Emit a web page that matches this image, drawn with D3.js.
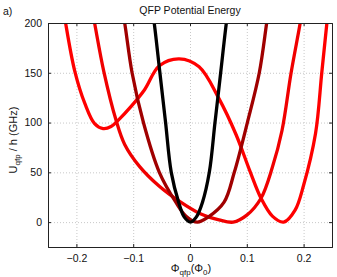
<!DOCTYPE html>
<html>
<head>
<meta charset="utf-8">
<script src="https://cdn.jsdelivr.net/npm/d3@7"></script>
<style>
  body { margin: 0; background: #fff; }
  text { font-family: "Liberation Sans", Arial, sans-serif; fill: #111; }
  .grid line { stroke: #c8c8c8; stroke-dasharray: 1,2; }
</style>
</head>
<body>
<div id="chart"></div>
<script>

// curves: [phi, U]
var curveBlack = [[-0.067,215],[-0.063,200],[-0.053,150],[-0.043,100],[-0.033,50],[-0.02,20],[-0.01,5],[0.001,0],[0.011,5],[0.022,20],[0.034,50],[0.044,100],[0.054,150],[0.064,200],[0.068,215]]
var curveDark = [[-0.12,215],[-0.115,200],[-0.102,150],[-0.082,100],[-0.054,50],[-0.025,20],[-0.007,6],[0.013,0],[0.032,5],[0.06,20],[0.078,50],[0.101,100],[0.122,150],[0.135,200],[0.139,215]]
var curveRedB = [[-0.173,215],[-0.168,200],[-0.152,152],[-0.130,102],[-0.115,78],[-0.089,56],[-0.054,36],[-0.019,21],[0.016,9],[0.051,2.3],[0.076,0],[0.10,7],[0.125,24],[0.145,55],[0.162,92],[0.178,150],[0.194,200],[0.198,215]]
var curveRedC = [[-0.223,215],[-0.219,200],[-0.203,152],[-0.185,119],[-0.168,99],[-0.153,94],[-0.139,96],[-0.127,102],[-0.104,116],[-0.080,133],[-0.054,157],[-0.019,164],[0.016,156],[0.051,124],[0.081,88],[0.105,52],[0.125,24],[0.145,6],[0.165,0],[0.185,12],[0.2,37],[0.221,89],[0.232,150],[0.241,200],[0.244,215]]

var curves = [curveRedC, curveRedB, curveDark, curveBlack]
var curveColors = ["#ff0000", "#f00000", "#a00000", "#000000"]

var xTicks = [-0.2, -0.1, 0, 0.1, 0.2]
var yTicks = [0, 50, 100, 150, 200]

var W = 337, H = 277
var margin = { top: 23, right: 5, bottom: 30, left: 48 },
    width = W - margin.left - margin.right,
    height = H - margin.top - margin.bottom

var svg = d3.select("#chart").append("svg")
    .attr("width", W)
    .attr("height", H)

var g = svg.append("g")
    .attr("transform", "translate(" + margin.left + "," + margin.top + ")")

var x = d3.scaleLinear().domain([-0.25, 0.25]).range([0, width])
var y = d3.scaleLinear().domain([-25, 200]).range([height, 0])

// grid
g.append("g").attr("class", "grid")
  .selectAll("line").data(xTicks).enter().append("line")
    .attr("x1", function(d) { return x(d) + 0.5 }).attr("x2", function(d) { return x(d) + 0.5 })
    .attr("y1", 0).attr("y2", height)
g.append("g").attr("class", "grid")
  .selectAll("line").data(yTicks).enter().append("line")
    .attr("y1", function(d) { return y(d) + 0.5 }).attr("y2", function(d) { return y(d) + 0.5 })
    .attr("x1", 0).attr("x2", width)

g.append("clipPath").attr("id", "clip")
  .append("rect").attr("width", width).attr("height", height)

var line = d3.line()
    .x(function(d) { return x(d[0]) })
    .y(function(d) { return y(d[1]) })
    .curve(d3.curveCatmullRom.alpha(0.5))

g.append("g").attr("clip-path", "url(#clip)")
  .selectAll("path").data(curves).enter().append("path")
    .attr("d", line)
    .attr("fill", "none")
    .attr("stroke", function(d, i) { return curveColors[i] })
    .attr("stroke-width", 3.3)
    .attr("stroke-linejoin", "round")

// axes (ticks pointing inward, matlab style)
g.append("g")
    .attr("transform", "translate(0," + height + ")")
    .call(d3.axisBottom(x).tickValues(xTicks).tickSize(-3).tickPadding(8)
      .tickFormat(function(d) { return d === 0 ? "0" : d3.format(".1f")(d).replace("-", "\u2212") }))
g.append("g")
    .call(d3.axisLeft(y).tickValues(yTicks).tickSize(-3).tickPadding(6))
g.append("g")
    .call(d3.axisTop(x).tickValues(xTicks).tickSize(-3).tickFormat(""))
g.append("g")
    .attr("transform", "translate(" + width + ",0)")
    .call(d3.axisRight(y).tickValues(yTicks).tickSize(-3).tickFormat(""))

g.selectAll(".domain").attr("stroke", "#222")
g.selectAll(".tick line").attr("stroke", "#222")
g.selectAll(".tick text").style("font-size", "10.5px").style("fill", "#111")

// texts
svg.append("text")
    .attr("x", 190).attr("y", 14)
    .attr("text-anchor", "middle")
    .style("font-size", "10.5px")
    .text("QFP Potential Energy")

svg.append("text")
    .attr("x", 3).attr("y", 15)
    .style("font-size", "10.5px")
    .text("a)")

var yl = svg.append("text")
    .attr("transform", "translate(17,140) rotate(-90)")
    .attr("text-anchor", "middle")
    .style("font-size", "11px")
yl.append("tspan").text("U")
yl.append("tspan").attr("dy", 3).style("font-size", "8px").text("qfp")
yl.append("tspan").attr("dy", -3).text(" / h (GHz)")

var xl = svg.append("text")
    .attr("x", 191).attr("y", 272)
    .attr("text-anchor", "middle")
    .style("font-size", "11px")
xl.append("tspan").text("\u03A6")
xl.append("tspan").attr("dy", 3).style("font-size", "8px").text("qfp")
xl.append("tspan").attr("dy", -3).text("(\u03A6")
xl.append("tspan").attr("dy", 3).style("font-size", "8px").text("0")
xl.append("tspan").attr("dy", -3).text(")")

</script>
</body>
</html>
